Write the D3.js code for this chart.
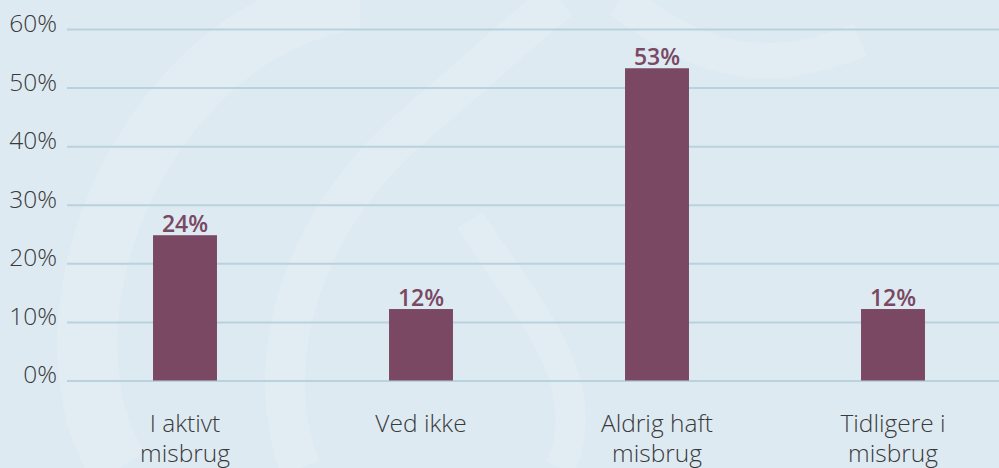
<!DOCTYPE html>
<html><head><meta charset="utf-8">
<script src="https://cdn.jsdelivr.net/npm/d3@7"></script>
<style>
html,body{margin:0;padding:0;background:#deeaf2;overflow:hidden}
svg{display:block}
</style></head>
<body>
<script>
const categories = [["I aktivt","misbrug"],["Ved ikke"],["Aldrig haft","misbrug"],["Tidligere i","misbrug"]];
const values = [24.8, 12.2, 53.3, 12.2];
const valueLabels = ["24%","12%","53%","12%"];
const yTicks = [0,10,20,30,40,50,60];

const W = 999, H = 468;
const svg = d3.select("body").append("svg").attr("width", W).attr("height", H);

// background with faint watermark swirls
svg.append("rect").attr("width", W).attr("height", H).attr("fill", "#deeaf2");
const wm = svg.append("g").attr("fill", "none").attr("stroke", "#ffffff").attr("stroke-opacity", 0.12);
wm.append("path").attr("d", "M120,468 C60,380 80,200 200,80 C260,20 330,0 360,0").attr("stroke-width", 60);
wm.append("path").attr("d", "M300,468 C260,360 300,220 420,120 C480,70 520,30 560,0").attr("stroke-width", 40);
wm.append("path").attr("d", "M560,468 C600,380 520,300 470,220").attr("stroke-width", 30);
wm.append("path").attr("d", "M620,0 C700,60 760,80 860,40").attr("stroke-width", 35);

const y = d3.scaleLinear().domain([0, 60]).range([380.5, 29]);
const x = d3.scaleBand().domain(d3.range(categories.length)).range([67, 1011]).paddingInner(0.729).paddingOuter(0.3645);

// gridlines
const yAxis = d3.axisLeft(y).tickValues(yTicks).tickFormat(d => d + "%").tickSize(-(W - 67)).tickPadding(10);
const ga = svg.append("g").attr("transform", "translate(67,0)").call(yAxis);
ga.select(".domain").remove();
ga.selectAll(".tick line").attr("stroke", "#b8d2de").attr("stroke-width", 2);
ga.selectAll(".tick text").attr("fill", "#3a3a3a").attr("font-family", "'Open Sans', sans-serif")
  .attr("font-weight", 300).attr("font-size", 24.5).attr("dy", "0.1em").attr("x", -10);

// bars
svg.append("g").selectAll("rect").data(values).join("rect")
  .attr("x", (d, i) => x(i)).attr("width", x.bandwidth())
  .attr("y", d => y(d)).attr("height", d => y(0) - y(d))
  .attr("fill", "#7a4862");

// value labels
svg.append("g").selectAll("text").data(values).join("text")
  .attr("x", (d, i) => x(i) + x.bandwidth() / 2).attr("y", d => y(d) - 3)
  .attr("text-anchor", "middle").attr("fill", "#7a4862")
  .attr("font-family", "'Open Sans', sans-serif").attr("font-weight", 600).attr("font-size", 23)
  .text((d, i) => valueLabels[i]);

// category labels
const cg = svg.append("g");
categories.forEach((lines, i) => {
  const t = cg.append("text").attr("text-anchor", "middle").attr("fill", "#3a3a3a")
    .attr("font-family", "'Open Sans', sans-serif").attr("font-weight", 300).attr("font-size", 24.5);
  lines.forEach((l, j) => {
    t.append("tspan").attr("x", x(i) + x.bandwidth() / 2).attr("y", 432 + j * 30).text(l);
  });
});
</script>
</body></html>
